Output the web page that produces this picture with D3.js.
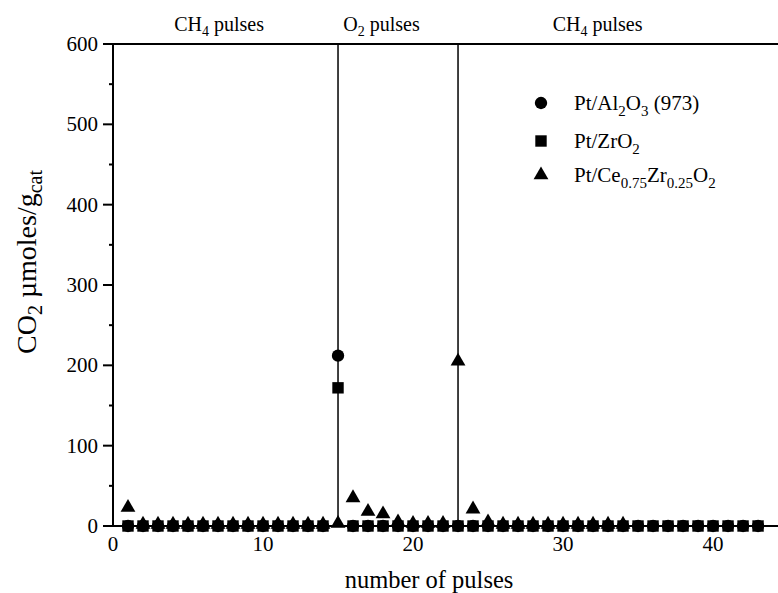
<!DOCTYPE html>
<html><head><meta charset="utf-8">
<script src="https://cdn.jsdelivr.net/npm/d3@7"></script>
<style>body{margin:0;background:#fff}svg{display:block}svg text{font-family:"Liberation Serif",serif}</style>
</head><body><svg id="c" width="778" height="593"></svg>
<script>
const pulses = [1,2,3,4,5,6,7,8,9,10,11,12,13,14,15,16,17,18,19,20,21,22,23,24,25,26,27,28,29,30,31,32,33,34,35,36,37,38,39,40,41,42,43];
const ptAl2O3 = [0,0,0,0,0,0,0,0,0,0,0,0,0,0,212,0,0,0,0,0,0,0,0,0,0,0,0,0,0,0,0,0,0,0,0,0,0,0,0,0,0,0,0];
const ptZrO2 = [0,0,0,0,0,0,0,0,0,0,0,0,0,0,172,0,0,0,0,0,0,0,0,0,0,0,0,0,0,0,0,0,0,0,0,0,0,0,0,0,0,0,0];
const ptCeZr = [23,2,2,2,2,2,2,2,2,2,2,2,2,2,3,35,18,15,5,3,3,3,205,21,5,2,2,2,2,2,2,2,2,2,null,null,null,null,null,null,null,null,null];
const xTicks = [0,10,20,30,40];
const yTicks = [0,100,200,300,400,500,600];
const yMinor = [50,150,250,350,450,550];
const separators = [15,23];
const phaseLabels = [{name:"CH", sub:"4", rest:" pulses", at:7.07},{name:"O", sub:"2", rest:" pulses", at:17.9},{name:"CH", sub:"4", rest:" pulses", at:32.3}];
const legendItems = [
  {sym:"circle", parts:[["Pt/Al",0],["2",1],["O",0],["3",1],[" (973)",0]]},
  {sym:"square", parts:[["Pt/ZrO",0],["2",1]]},
  {sym:"triangle", parts:[["Pt/Ce",0],["0.75",1],["Zr",0],["0.25",1],["O",0],["2",1]]}
];

const FONT = "Liberation Serif";
const svg = d3.select("#c");
const txt = (sel)=>sel.append("text").attr("font-family",FONT).attr("fill","#000");
const x = d3.scaleLinear().domain([0,44.33]).range([113,778]);
const y = d3.scaleLinear().domain([0,600]).range([526,44]);

svg.append("line").attr("x1",103).attr("x2",778).attr("y1",y(0)).attr("y2",y(0)).attr("stroke","#000").attr("stroke-width",2);
svg.append("line").attr("x1",103).attr("x2",778).attr("y1",y(600)).attr("y2",y(600)).attr("stroke","#000").attr("stroke-width",2);
svg.append("line").attr("x1",113).attr("x2",113).attr("y1",y(600)).attr("y2",y(0)).attr("stroke","#000").attr("stroke-width",2);

yTicks.forEach(t=>{
  svg.append("line").attr("x1",103).attr("x2",113).attr("y1",y(t)).attr("y2",y(t)).attr("stroke","#000").attr("stroke-width",2);
  txt(svg).attr("x",98).attr("y",y(t)+7).attr("text-anchor","end").attr("font-size",21).text(t);
});
yMinor.forEach(t=>{
  svg.append("line").attr("x1",109).attr("x2",113).attr("y1",y(t)).attr("y2",y(t)).attr("stroke","#000").attr("stroke-width",2);
});
xTicks.forEach(t=>{
  txt(svg).attr("x",x(t)).attr("y",551).attr("text-anchor","middle").attr("font-size",21).text(t);
});

separators.forEach(s=>{
  svg.append("line").attr("x1",x(s)).attr("x2",x(s)).attr("y1",y(600)).attr("y2",y(0)).attr("stroke","#000").attr("stroke-width",1.5);
});

phaseLabels.forEach(p=>{
  const t = txt(svg).attr("x",x(p.at)).attr("y",31).attr("text-anchor","middle").attr("font-size",20);
  t.append("tspan").text(p.name);
  t.append("tspan").attr("dy",5).attr("font-size",14).text(p.sub);
  t.append("tspan").attr("dy",-5).text(p.rest);
});

txt(svg).attr("x",429).attr("y",588).attr("text-anchor","middle").attr("font-size",24.5).text("number of pulses");
const yt = txt(svg).attr("transform","translate(36,262) rotate(-90)").attr("text-anchor","middle").attr("font-size",28);
yt.append("tspan").text("CO");
yt.append("tspan").attr("dy",6).attr("font-size",20).text("2");
yt.append("tspan").attr("dy",-6).text(" \u00b5moles/g");
yt.append("tspan").attr("dy",6).attr("font-size",20).text("cat");

const symMap = {circle:d3.symbol().type(d3.symbolCircle).size(120),
                square:d3.symbol().type(d3.symbolSquare).size(130),
                triangle:d3.symbol().type(d3.symbolTriangle).size(95)};

function plot(vals, sym){
  svg.append("g").selectAll("path").data(pulses.map((p,i)=>[p,vals[i]]).filter(d=>d[1]!==null))
    .join("path").attr("d",symMap[sym]())
    .attr("transform",d=>`translate(${x(d[0])},${y(d[1])})`).attr("fill","#000");
}
plot(ptAl2O3,"circle");
plot(ptZrO2,"square");
plot(ptCeZr,"triangle");

const legY = [103,141,175];
legendItems.forEach((it,i)=>{
  svg.append("path").attr("d",symMap[it.sym]()).attr("transform",`translate(541,${legY[i]})`).attr("fill","#000");
  const t = txt(svg).attr("x",574).attr("y",legY[i]+7).attr("font-size",21);
  let cur=0;
  it.parts.forEach(([s,sub])=>{
    const dy = sub ? (cur===1?0:6) : (cur===1?-6:0);
    const ts = t.append("tspan").attr("dy",dy).text(s);
    if(sub) ts.attr("font-size",15);
    cur = sub;
  });
});
</script></body></html>
